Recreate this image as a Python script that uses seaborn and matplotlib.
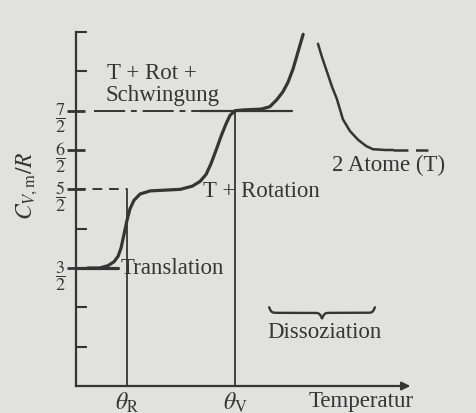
import numpy as np
import matplotlib
matplotlib.use("Agg")
import matplotlib.pyplot as plt
import seaborn as sns

# values; x in arbitrary temperature units (arrow end = 10), y = C_V,m / R
theta_r = 1.51
theta_v = 4.72
x_end = 10.0

main_x = [0.35, 0.7, 0.95, 1.13, 1.25, 1.34, 1.42, 1.51, 1.6, 1.72, 1.9, 2.2, 2.65, 3.1,
          3.45, 3.68, 3.86, 4.0, 4.15, 4.3, 4.45, 4.57, 4.72, 5.0, 5.5, 5.75, 5.96, 6.14,
          6.29, 6.44, 6.59, 6.74]
main_y = [1.5, 1.5, 1.53, 1.58, 1.65, 1.76, 1.92, 2.1, 2.25, 2.36, 2.44, 2.48, 2.49, 2.5,
          2.54, 2.6, 2.69, 2.82, 2.99, 3.17, 3.33, 3.44, 3.5, 3.51, 3.52, 3.55, 3.64, 3.74,
          3.86, 4.03, 4.25, 4.47]

atom_x = [7.18, 7.3, 7.45, 7.6, 7.74, 7.92, 8.13, 8.37, 8.61, 8.81, 9.17, 9.41]
atom_y = [4.35, 4.18, 3.99, 3.8, 3.65, 3.39, 3.24, 3.13, 3.05, 3.01, 3.0, 3.0]
atom_dash_end = 10.45

trans_end = 1.25
rot_dash_start, rot_solid_start, rot_solid_end = 0.53, 3.68, 6.41
brace_x0, brace_x1, brace_top, brace_h = 5.73, 8.87, 1.0, 0.14

y_ticks_major = [1.5, 2.5, 3.0, 3.5]
y_ticks_labels = [r"$\dfrac{3}{2}$", r"$\dfrac{5}{2}$", r"$\dfrac{6}{2}$", r"$\dfrac{7}{2}$"]
y_ticks_minor = [0.5, 1.0, 2.0, 4.0, 4.5]
x_ticks = [theta_r, theta_v]
x_tick_labels = [r"$\theta_\mathrm{R}$", r"$\theta_\mathrm{V}$"]

ink = "#353535"
paper = "#e1e1de"

sns.set_theme(style="white")
plt.rcParams["font.family"] = ["Liberation Serif", "DejaVu Serif"]
plt.rcParams["mathtext.fontset"] = "stix"
plt.rcParams["text.color"] = ink

fig = plt.figure(figsize=(4.77, 4.14), dpi=100, facecolor=paper)
ax = fig.add_axes([76 / 477, 27 / 414, 401 / 477, 387 / 414])
ax.set_facecolor(paper)
ax.set_xlim(0, 401 / 33.7)
ax.set_ylim(0, 387 / 78.67)

# curves
sns.lineplot(x=main_x, y=main_y, ax=ax, color=ink, lw=2.3, estimator=None, clip_on=False)
sns.lineplot(x=atom_x, y=atom_y, ax=ax, color=ink, lw=1.8, estimator=None, clip_on=False)
ax.plot([atom_x[-1], atom_dash_end], [3.0, 3.0], color=ink, lw=1.8, ls=(0, (6, 3)), clip_on=False)

# plateau guides
ax.plot([0, trans_end], [1.5, 1.5], color=ink, lw=2.3)
ax.plot([0, theta_r], [2.5, 2.5], color=ink, lw=1.4, ls=(0, (5, 3.5)))
ax.plot([rot_dash_start, rot_solid_start], [3.5, 3.5], color=ink, lw=1.4, ls=(0, (16, 3, 3, 3)))
ax.plot([rot_solid_start, rot_solid_end], [3.5, 3.5], color=ink, lw=1.6)
ax.plot([theta_r, theta_r], [0, 2.5], color=ink, lw=1.3)
ax.plot([theta_v, theta_v], [0, 3.5], color=ink, lw=1.3)

# curly brace over the dissociation range (ends up, tip down)
t = np.linspace(0, 0.5, 200)
half = 1 / (1 + np.exp(-90 * t)) + 1 / (1 + np.exp(-90 * (t - 0.5)))
shape = np.concatenate([half, half[::-1]])
bx = np.linspace(brace_x0, brace_x1, shape.size)
ax.plot(bx, brace_top - (shape - 0.5) * brace_h, color=ink, lw=1.7)

# axes
for s in ["top", "right"]:
    ax.spines[s].set_visible(False)
ax.spines["left"].set_bounds(0, 4.5)
ax.spines["bottom"].set_bounds(0, x_end - 0.2)
for s in ["left", "bottom"]:
    ax.spines[s].set_color(ink)
    ax.spines[s].set_linewidth(1.6)
ax.annotate("", xy=(x_end, 0), xytext=(x_end - 0.3, 0),
            arrowprops=dict(arrowstyle="-|>", color=ink, lw=1.6, mutation_scale=12))

ax.set_yticks(y_ticks_major)
ax.set_yticklabels(y_ticks_labels)
ax.set_yticks(y_ticks_minor, minor=True)
ax.tick_params(axis="y", which="both", left=True)
ax.tick_params(axis="y", which="major", direction="inout", length=13, width=2.0,
               color=ink, labelsize=13, labelcolor=ink, pad=1)
ax.tick_params(axis="y", which="minor", direction="in", length=8, width=1.5, color=ink)
ax.set_xticks(x_ticks)
ax.set_xticklabels(x_tick_labels)
ax.tick_params(axis="x", length=0, labelsize=17, labelcolor=ink, pad=3)

ax.set_ylabel(r"$C_{V,\mathrm{m}}/R$", fontsize=17, color=ink)
ax.yaxis.set_label_coords(-0.09, 0.52)

# annotations
fs = 16.5
ax.text(2.26, 3.99, "T + Rot +", fontsize=fs, ha="center", va="center")
ax.text(2.58, 3.71, "Schwingung", fontsize=fs, ha="center", va="center")
ax.text(3.77, 2.49, "T + Rotation", fontsize=fs, ha="left", va="center")
ax.text(7.6, 2.82, "2 Atome (T)", fontsize=fs, ha="left", va="center")
ax.text(1.31, 1.5, "Translation", fontsize=fs, ha="left", va="center")
ax.text(7.36, 0.69, "Dissoziation", fontsize=fs, ha="center", va="center")
ax.text(8.46, -0.19, "Temperatur", fontsize=fs, ha="center", va="center", clip_on=False)

fig.savefig("out.png", dpi=100, facecolor=paper)
